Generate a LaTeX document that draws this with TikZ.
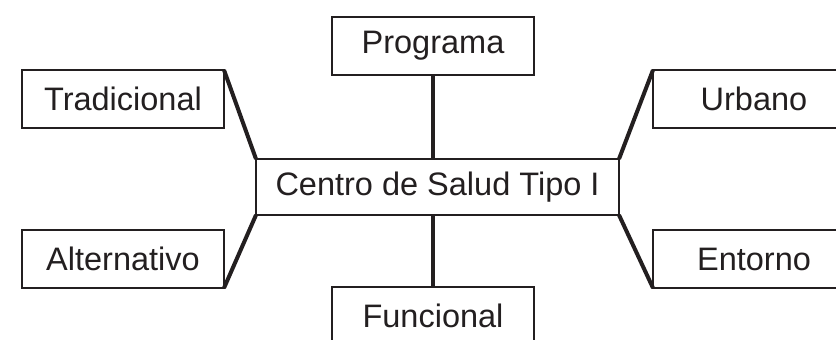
\documentclass[tikz,border=0pt]{standalone}
\usepackage{fontspec}
\setmainfont{Liberation Sans}
\definecolor{tinta}{RGB}{35,31,32}
\begin{document}
\begin{tikzpicture}[x=1pt,y=-1pt,box/.style={draw=tinta,line width=2pt,fill=white,inner sep=0pt,outer sep=0pt,minimum width=202pt,minimum height=58pt,text=tinta,font=\fontsize{32.5}{39}\selectfont},link/.style={draw=tinta,line width=4pt}]
                \useasboundingbox (0,0) rectangle (836,340);
                \node[box,minimum width=363pt,minimum height=56pt] (centro) at (437.5,187) {Centro de Salud Tipo I};
                \foreach \mname/\mx/\my/\mtext in {prog/433/46/Programa,func/433/316/Funcional,trad/123/99/Tradicional,alt/123/259/Alternativo,urb/754/99/Urbano,ent/754/259/Entorno}
                    \node[box] (\mname) at (\mx,\my) {\mtext};
                \draw[link] (prog.south)--(prog.south |- centro.north) (func.north)--(func.north |- centro.south);
                \draw[link] (trad.north east)--(centro.north west) (alt.south east)--(centro.south west) (urb.north west)--(centro.north east) (ent.south west)--(centro.south east);
            \end{tikzpicture}
\end{document}
